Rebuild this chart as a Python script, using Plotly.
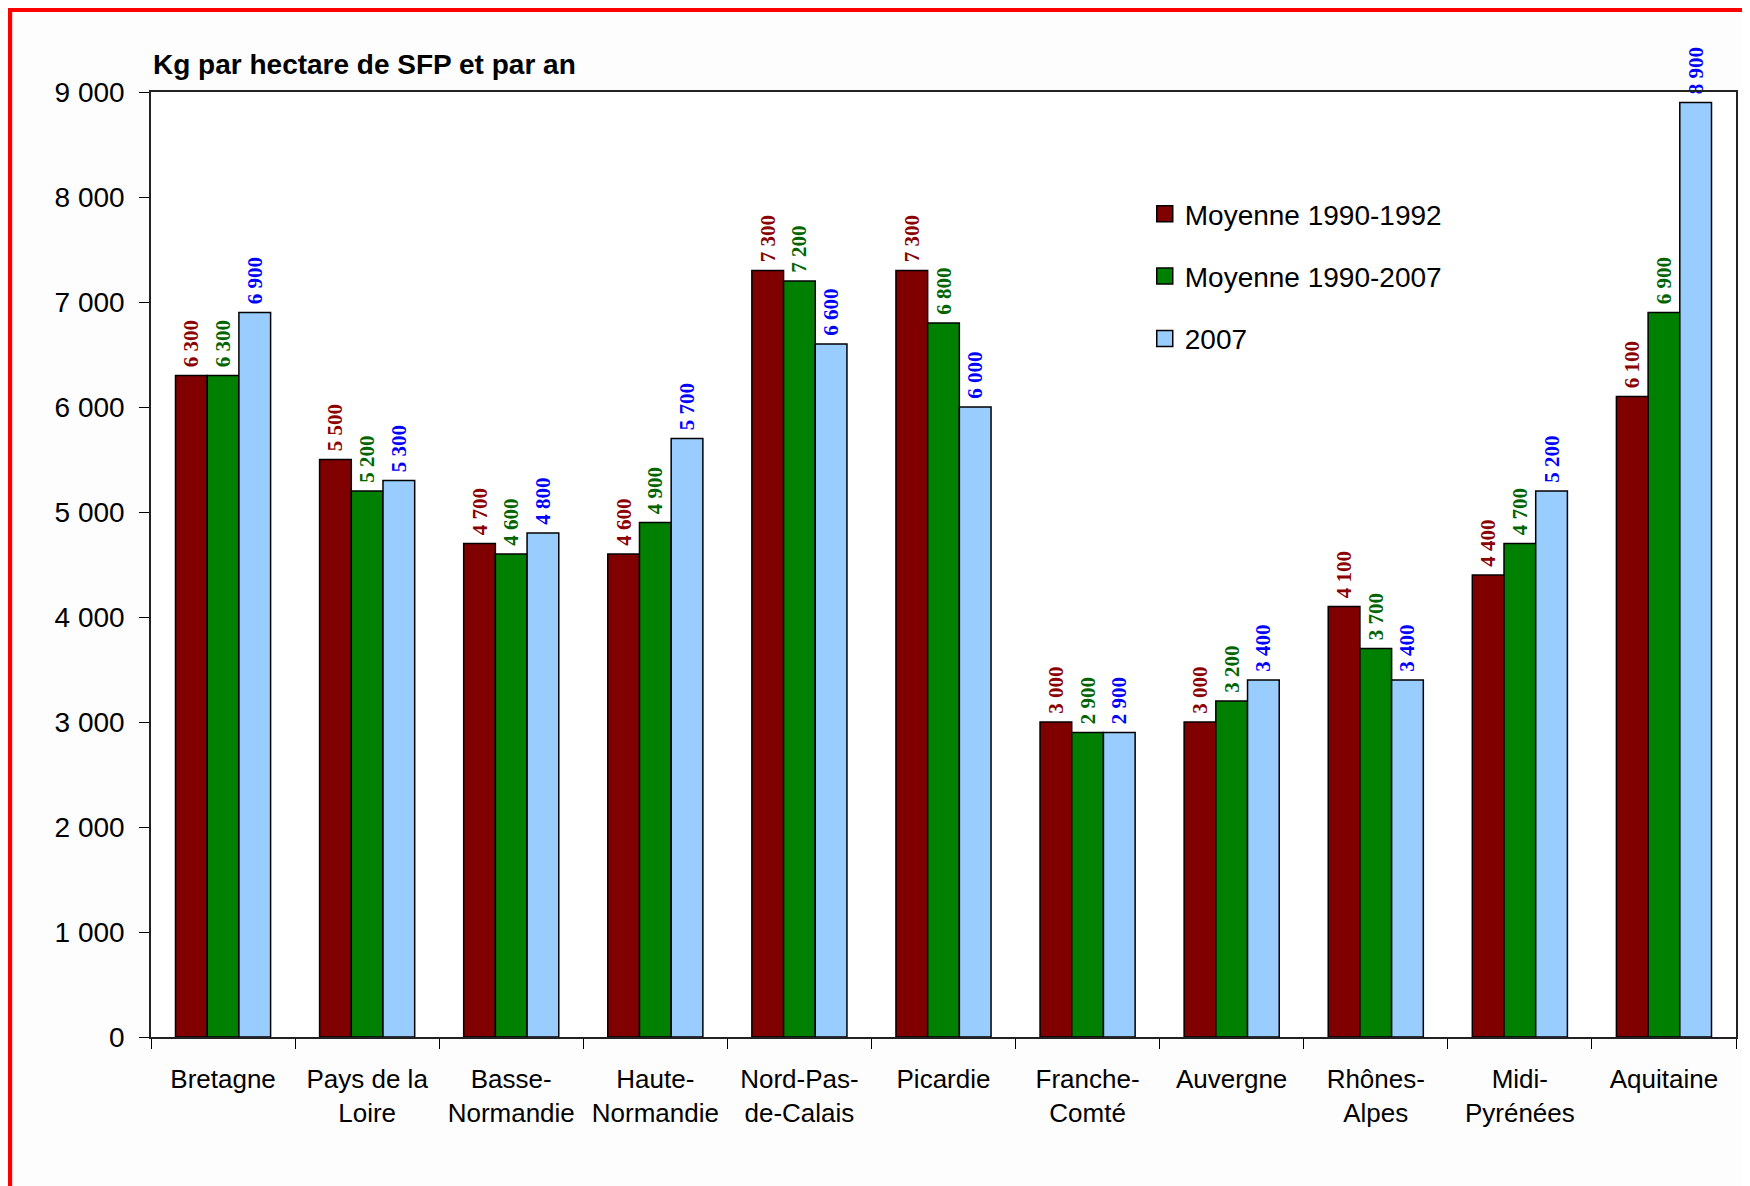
import plotly.graph_objects as go

# page body has an 8px margin, so the figure is 8px smaller than the window
OFF = 8
W, H = 1750 - OFF, 1186 - OFF
L, R, T, B = 151 - OFF, 12, 92 - OFF, 149

regions = [
    "Bretagne", "Pays de la<br>Loire", "Basse-<br>Normandie", "Haute-<br>Normandie",
    "Nord-Pas-<br>de-Calais", "Picardie", "Franche-<br>Comté", "Auvergne",
    "Rhônes-<br>Alpes", "Midi-<br>Pyrénées", "Aquitaine",
]
moy_1990_1992 = [6300, 5500, 4700, 4600, 7300, 7300, 3000, 3000, 4100, 4400, 6100]
moy_1990_2007 = [6300, 5200, 4600, 4900, 7200, 6800, 2900, 3200, 3700, 4700, 6900]
val_2007 = [6900, 5300, 4800, 5700, 6600, 6000, 2900, 3400, 3400, 5200, 8900]

series = [
    ("Moyenne 1990-1992", moy_1990_1992, "#800000", "#8B0000"),
    ("Moyenne 1990-2007", moy_1990_2007, "#008000", "#006400"),
    ("2007", val_2007, "#99CCFF", "#0000FF"),
]

SANS = "Liberation Sans, Arial, sans-serif"
SERIF = "Liberation Serif, Times New Roman, serif"

fig = go.Figure()
for i, (name, vals, color, txtcolor) in enumerate(series):
    fig.add_bar(
        x=regions,
        y=vals,
        name=name,
        showlegend=False,
        marker={"color": color, "line": {"color": "#000000", "width": 1.5}},
        texttemplate="\u00a0%{y:,}",
        textposition="outside",
        textangle=-90,
        constraintext="none",
        cliponaxis=False,
        textfont={"family": SERIF, "size": 21, "color": txtcolor, "weight": "bold"},
    )
    # legend entry with a bigger square than the bar legend symbol
    fig.add_scatter(
        x=[None],
        y=[None],
        mode="markers",
        name=name,
        legendgroup=f"g{i}",
        marker={"symbol": "square", "size": 16, "color": color,
                "line": {"color": "#000000", "width": 1.5}},
    )


def px_x(p):
    return (p - OFF - L) / (W - L - R)


def px_y(p):
    return (H - B - (p - OFF)) / (H - T - B)


shapes = [
    # red frame around the picture
    dict(type="line", xref="paper", yref="paper", x0=px_x(6), x1=px_x(1750), y0=px_y(9.5), y1=px_y(9.5),
         line={"color": "#FF0000", "width": 5}),
    dict(type="line", xref="paper", yref="paper", x0=px_x(9), x1=px_x(9), y0=px_y(7), y1=px_y(1186),
         line={"color": "#FF0000", "width": 6}),
    dict(type="line", xref="paper", yref="paper", x0=px_x(1746), x1=px_x(1746), y0=px_y(12), y1=px_y(1186),
         line={"color": "#FFB8B8", "width": 2}),
]

fig.update_layout(
    width=W,
    height=H,
    margin={"l": L, "r": R, "t": T, "b": B},
    paper_bgcolor="#FDFDFD",
    plot_bgcolor="#FFFFFF",
    separators=", ",
    barmode="group",
    bargap=0.34,
    bargroupgap=0,
    font={"family": SANS, "size": 27, "color": "#000000"},
    showlegend=True,
    legend={
        "x": px_x(1146), "y": px_y(189), "xanchor": "left", "yanchor": "top",
        "bgcolor": "rgba(0,0,0,0)", "font": {"size": 28},
        "traceorder": "grouped", "tracegroupgap": 23,
    },
    shapes=shapes,
    annotations=[
        dict(text="Kg par hectare de SFP et par an", xref="paper", yref="paper", x=0, y=1,
             xanchor="left", yanchor="middle", yshift=28, showarrow=False,
             font={"family": SANS, "size": 28, "weight": "bold"}),
    ],
)

fig.update_xaxes(
    tickson="boundaries",
    ticks="outside",
    ticklen=10,
    tickcolor="#000000",
    showline=True,
    linecolor="#222222",
    linewidth=1.5,
    mirror=True,
    showgrid=False,
    ticklabelstandoff=18,
    tickfont={"size": 26},
)
fig.update_yaxes(
    range=[0, 9000],
    dtick=1000,
    tickformat=",",
    ticks="outside",
    ticklen=10,
    tickcolor="#000000",
    showline=True,
    linecolor="#222222",
    linewidth=1.5,
    mirror=True,
    showgrid=False,
    zeroline=False,
    ticklabelstandoff=9,
    tickfont={"size": 28},
)

fig.write_html("out.html")
